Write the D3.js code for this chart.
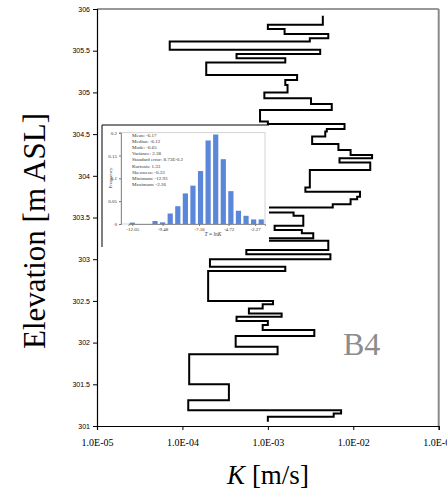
<!DOCTYPE html>
<html>
<head>
<meta charset="utf-8">
<script src="https://cdn.jsdelivr.net/npm/d3@7"></script>
<style>
  body { margin: 0; background: #fff; }
  svg { display: block; }
</style>
</head>
<body>
<div id="holder"></div>
<script>
// elevation breakpoints (m ASL), top to bottom
const elevation = [
    305.92, 305.81, 305.76, 305.70, 305.65, 305.61, 305.51, 305.46, 305.41, 305.36,
    305.21, 305.15, 305.09, 305.00, 304.93, 304.86, 304.79, 304.65, 304.62, 304.56,
    304.53, 304.47, 304.38, 304.31, 304.25, 304.21, 304.16, 304.07, 303.86, 303.81,
    303.75, 303.72, 303.66, 303.62, 303.56, 303.52, 303.40, 303.35, 303.31, 303.25,
    303.22, 303.11, 303.06, 303.00, 302.91, 302.86, 302.50, 302.46, 302.41, 302.35,
    302.31, 302.26, 302.21, 302.15, 302.08, 301.95, 301.86, 301.50, 301.31, 301.19,
    301.15, 301.11, 301.05
];
// K [m/s] for each interval between breakpoints
const conductivity = [
    4.4e-3, 1.0e-3, 1.57e-3, 5.1e-3, 3.1e-3, 7.1e-5, 4.1e-3, 4.3e-4, 1.6e-3, 1.9e-4,
    2.2e-3, 1.6e-3, 1.7e-3, 9.1e-4, 3.2e-3, 5.6e-3, 8.1e-4, 1.0e-3, 7.9e-3, 4.9e-3,
    4.7e-3, 3.3e-3, 6.7e-3, 9.3e-3, 1.66e-2, 6.9e-3, 1.58e-2, 3.1e-3, 2.75e-3, 1.2e-2,
    1.11e-2, 9.3e-3, 5.75e-3, 4.0e-4, 2.0e-3, 2.6e-3, 1.2e-3, 2.5e-3, 3.4e-3, 3.0e-4,
    5.1e-3, 5.6e-4, 5.4e-3, 2.1e-4, 1.6e-3, 2.0e-4, 1.15e-3, 8.7e-4, 6.0e-4, 1.45e-3,
    4.3e-4, 1.0e-3, 8.7e-4, 3.5e-3, 4.2e-4, 1.3e-3, 1.2e-4, 3.5e-4, 1.17e-4, 7.2e-3,
    5.9e-3, 1.0e-3
];
const kTicks = [1e-5, 1e-4, 1e-3, 1e-2, 1e-1];
const elevTicks = [301, 301.5, 302, 302.5, 303, 303.5, 304, 304.5, 305, 305.5, 306];

// inset histogram of T = lnK
const histFreq = [0.003, 0, 0, 0.0066, 0.0036, 0.023, 0.039, 0.067, 0.084, 0.116,
                  0.183, 0.196, 0.142, 0.072, 0.029, 0.018, 0.010, 0.010];
const histTickPos = [0, 4, 8.8, 12.7, 16.2];
const histTickLabels = ["-12.05", "-9.48", "-7.16", "-4.72", "-2.27"];
const freqTicks = [0, 0.05, 0.1, 0.15, 0.2];
const statsLines = [
    "Mean: -6.17", "Median: -6.12", "Mode: -6.65", "Variance: 2.38",
    "Standard error: 8.73E-0.2", "Kurtosis: 1.33", "Skewness: -0.33",
    "Minimum: -12.93", "Maximum: -2.26"
];

const width = 447;
const height = 496;
const plotLeft = 97, plotRight = 438.7, plotTop = 9, plotBottom = 426;
const serif = "'Liberation Serif', 'Times New Roman', serif";

const svg = d3.select("#holder")
    .append("svg")
    .attr("width", width)
    .attr("height", height)
    .style("background", "#fff");

const xScale = d3.scaleLog().domain([1e-5, 1e-1]).range([plotLeft, plotRight]);
const yScale = d3.scaleLinear().domain([301, 306]).range([plotBottom, plotTop]);

// frame: top and right
svg.append("line")
    .attr("x1", plotLeft).attr("x2", plotRight)
    .attr("y1", plotTop).attr("y2", plotTop)
    .attr("stroke", "#333").attr("stroke-width", 1);
svg.append("line")
    .attr("x1", plotRight).attr("x2", plotRight)
    .attr("y1", plotTop).attr("y2", plotBottom)
    .attr("stroke", "#8a8a8a").attr("stroke-width", 2);

const xAxis = d3.axisBottom(xScale)
    .tickValues(kTicks)
    .tickSize(4)
    .tickFormat(d => "1.0E-" + String(Math.round(-Math.log10(d))).padStart(2, "0"));
const gx = svg.append("g")
    .attr("transform", `translate(0, ${plotBottom})`)
    .call(xAxis);
gx.selectAll("text")
    .style("font-family", serif)
    .style("font-size", "10px")
    .attr("dy", "1.3em")
    .attr("fill", "#000");

const yAxis = d3.axisLeft(yScale)
    .tickValues(elevTicks)
    .tickSize(4)
    .tickFormat(d => d);
const gy = svg.append("g")
    .attr("transform", `translate(${plotLeft}, 0)`)
    .call(yAxis);
gy.selectAll("text")
    .style("font-family", "'Liberation Sans Narrow', 'Arial Narrow', 'Liberation Sans', sans-serif")
    .style("font-size", "7px")
    .attr("x", -7)
    .attr("fill", "#000");

svg.selectAll(".domain").attr("stroke", "#000").attr("stroke-width", 1.2);

// step profile
const points = [];
conductivity.forEach((k, i) => {
    points.push([k, elevation[i]]);
    points.push([k, elevation[i + 1]]);
});
const line = d3.line()
    .x(d => xScale(d[0]))
    .y(d => yScale(d[1]));
svg.append("path")
    .datum(points)
    .attr("d", line)
    .attr("fill", "none")
    .attr("stroke", "#000")
    .attr("stroke-width", 2)
    .attr("stroke-linejoin", "miter");

// B4 label
svg.append("text")
    .attr("x", 343)
    .attr("y", 355)
    .style("font-family", serif)
    .style("font-size", "32px")
    .attr("fill", "#8c8c8c")
    .text("B4");

// axis titles
svg.append("text")
    .attr("transform", `translate(45, 231) rotate(-90)`)
    .attr("text-anchor", "middle")
    .style("font-family", serif)
    .style("font-size", "31px")
    .attr("fill", "#000")
    .text("Elevation [m ASL]");

const kTitle = svg.append("text")
    .attr("x", 268)
    .attr("y", 484)
    .attr("text-anchor", "middle")
    .style("font-family", serif)
    .style("font-size", "27px")
    .attr("fill", "#000");
kTitle.append("tspan").style("font-style", "italic").text("K");
kTitle.append("tspan").text(" [m/s]");

// ---- inset ----
const inset = svg.append("g");
const ix0 = 102, iy0 = 125, ix1 = 269, iy1 = 247;
inset.append("rect")
    .attr("x", ix0).attr("y", iy0)
    .attr("width", ix1 - ix0).attr("height", iy1 - iy0)
    .attr("fill", "#fff");
inset.append("line")
    .attr("x1", ix0).attr("x2", ix1).attr("y1", iy0).attr("y2", iy0)
    .attr("stroke", "#000").attr("stroke-width", 1);
inset.append("line")
    .attr("x1", ix0).attr("x2", ix0).attr("y1", iy0).attr("y2", iy1)
    .attr("stroke", "#000").attr("stroke-width", 1);

const hx = d3.scaleLinear().domain([-0.5, 17.5]).range([128.5, 265]);
const hy = d3.scaleLinear().domain([0, 0.2]).range([224, 132.7]);

// plot frame (light grey)
inset.append("rect")
    .attr("x", 121).attr("y", 132.7)
    .attr("width", 265 - 121).attr("height", 224 - 132.7)
    .attr("fill", "none")
    .attr("stroke", "#c8c8c8")
    .attr("stroke-width", 0.8);

inset.selectAll(".bar")
    .data(histFreq)
    .enter()
    .append("rect")
    .attr("class", "bar")
    .attr("x", (d, i) => hx(i) - 2.6)
    .attr("y", d => hy(d))
    .attr("width", 5.2)
    .attr("height", d => hy(0) - hy(d))
    .attr("fill", "#5b87da");

const hyAxis = d3.axisLeft(hy)
    .tickValues(freqTicks)
    .tickSize(2)
    .tickFormat(d => d);
const ghy = inset.append("g")
    .attr("transform", "translate(121, 0)")
    .call(hyAxis);

const hxAxis = d3.axisBottom(hx)
    .tickValues(histTickPos)
    .tickSize(2)
    .tickFormat((d, i) => histTickLabels[i]);
const ghx = inset.append("g")
    .attr("transform", "translate(0, 224)")
    .call(hxAxis);

[ghy, ghx].forEach(g => {
    g.select(".domain").attr("stroke", "#777").attr("stroke-width", 0.8);
    g.selectAll(".tick line").attr("stroke", "#777");
    g.selectAll("text")
        .style("font-family", serif)
        .style("font-size", "5px")
        .attr("fill", "#333");
});
ghy.selectAll("text").attr("x", -4);
ghx.selectAll("text").attr("y", 3);

inset.append("text")
    .attr("transform", "translate(112, 178) rotate(-90)")
    .attr("text-anchor", "middle")
    .style("font-family", serif)
    .style("font-size", "5px")
    .attr("fill", "#333")
    .text("Frequency");

const tTitle = inset.append("text")
    .attr("x", 213)
    .attr("y", 236)
    .attr("text-anchor", "middle")
    .style("font-family", serif)
    .style("font-size", "5.5px")
    .attr("fill", "#333");
tTitle.append("tspan").style("font-style", "italic").text("T");
tTitle.append("tspan").text(" = ");
tTitle.append("tspan").style("font-style", "italic").text("lnK");

inset.selectAll(".stat")
    .data(statsLines)
    .enter()
    .append("text")
    .attr("class", "stat")
    .attr("x", 132)
    .attr("y", (d, i) => 137 + i * 6.1)
    .style("font-family", serif)
    .style("font-size", "5px")
    .attr("fill", "#333")
    .text(d => d);
</script>
</body>
</html>
